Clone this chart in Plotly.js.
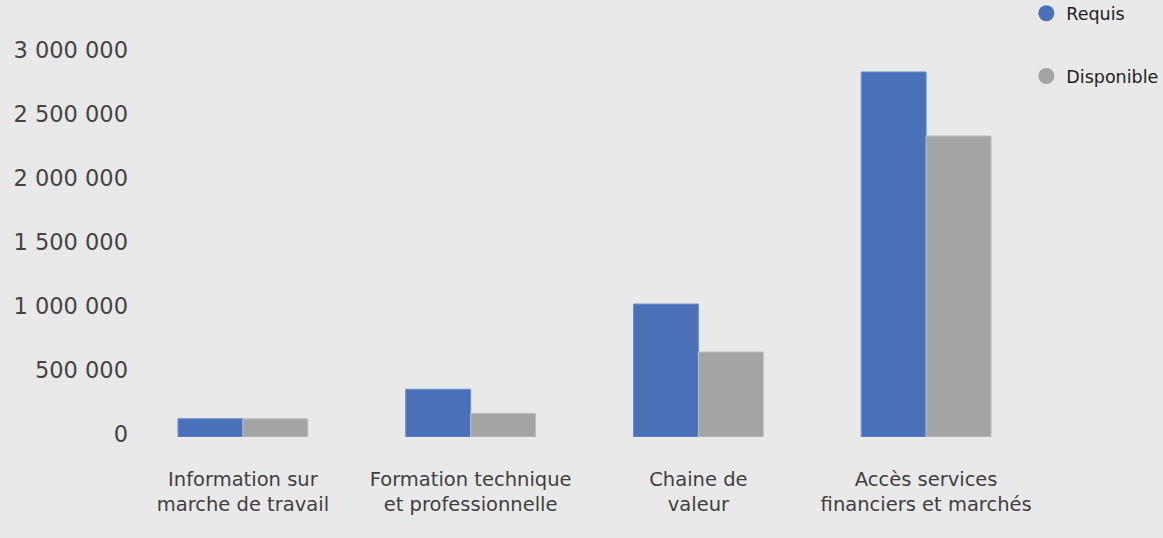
<!DOCTYPE html>
<html>
<head>
<meta charset="utf-8">
<script src="https://cdn.plot.ly/plotly-3.0.1.min.js"></script>
<style>html,body{margin:0;padding:0;background:#e9e9e9;}#chart{width:1163px;height:538px;}</style>
</head>
<body>
<div id="chart"></div>
<script>
const categories = [
  "Information sur<br>marche de travail",
  "Formation technique<br>et professionnelle",
  "Chaine de<br>valeur",
  "Accès services<br>financiers et marchés"
];
const requis = [143000, 373000, 1039000, 2852000];
const disponible = [143000, 185000, 664000, 2352000];
const seriesNames = ["Requis", "Disponible"];
const seriesColors = ["#4a71b8", "#a3a5a4"];
const yTickVals = [0, 500000, 1000000, 1500000, 2000000, 2500000, 3000000];
const yTickText = ["0", "500 000", "1 000 000", "1 500 000", "2 000 000", "2 500 000", "3 000 000"];

const data = [
  {type: "bar", x: categories, y: requis, name: seriesNames[0], showlegend: false,
   marker: {color: seriesColors[0], line: {color: "#6d8fd0", width: 1}}},
  {type: "bar", x: categories, y: disponible, name: seriesNames[1], showlegend: false,
   marker: {color: seriesColors[1], line: {color: "#bdbebd", width: 1}}},
  {type: "scatter", mode: "markers", x: [categories[0]], y: [null], name: seriesNames[0],
   legendgroup: "a", marker: {color: seriesColors[0], size: 17, symbol: "circle"}, hoverinfo: "skip"},
  {type: "scatter", mode: "markers", x: [categories[0]], y: [null], name: seriesNames[1],
   legendgroup: "b", marker: {color: seriesColors[1], size: 17, symbol: "circle"}, hoverinfo: "skip"}
];

const layout = {
  width: 1163, height: 538,
  paper_bgcolor: "#e9e9e9", plot_bgcolor: "#e9e9e9",
  margin: {l: 129, r: 123, t: 53, b: 101, autoexpand: false},
  barmode: "group", bargap: 0.43, bargroupgap: 0,
  font: {family: "DejaVu Sans, sans-serif", color: "#444"},
  xaxis: {type: "category", showgrid: false, zeroline: false, showline: false,
          ticks: "", tickfont: {size: 19.5, color: "#404040"}, ticklabelstandoff: 28},
  yaxis: {range: [0, 3000000], showgrid: false, zeroline: false, showline: false,
          tickvals: yTickVals, ticktext: yTickText, tickfont: {size: 22.5, color: "#444"},
          ticks: "", ticklabelstandoff: 0, ticklabelshift: -3},
  showlegend: true,
  legend: {x: 0.985, xanchor: "left", y: 1.15, yanchor: "top", bgcolor: "rgba(0,0,0,0)",
           font: {size: 17.5, color: "#222"}, traceorder: "grouped", tracegroupgap: 37,
           itemsizing: "trace", itemwidth: 30}
};

Plotly.newPlot("chart", data, layout, {displayModeBar: false, staticPlot: true});
</script>
</body>
</html>
